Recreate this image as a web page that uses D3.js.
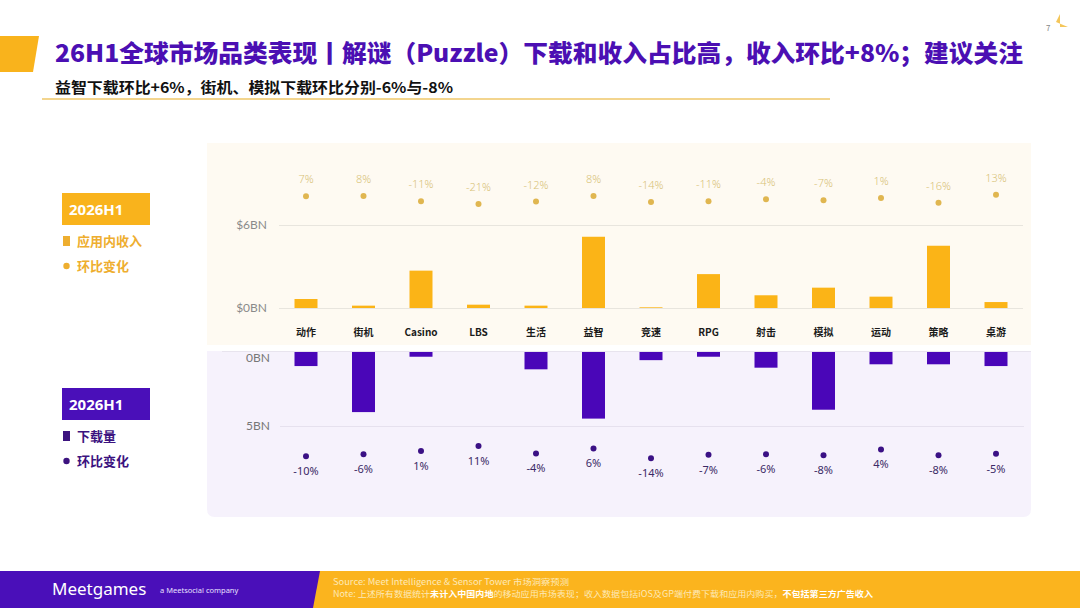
<!DOCTYPE html>
<html><head><meta charset="utf-8">
<script src="https://cdn.jsdelivr.net/npm/d3@7"></script>
<style>
html,body{margin:0;padding:0;background:#fff;}
svg{display:block;font-family:"Noto Sans CJK SC","Noto Sans",sans-serif;}
</style></head>
<body>
<svg id="c" width="1080" height="608"></svg>
<script>
// ---- data ----
const categories = ["动作","街机","Casino","LBS","生活","益智","竞速","RPG","射击","模拟","运动","策略","桌游"];
const revenue = [0.65,0.17,2.7,0.24,0.17,5.15,0.05,2.45,0.92,1.47,0.82,4.5,0.43];      // $BN, 2026H1 in-app revenue
const revenueQoQ = [7,8,-11,-21,-12,8,-14,-11,-4,-7,1,-16,13];                          // %
const downloads = [0.95,4.06,0.32,0,1.17,4.5,0.55,0.32,1.06,3.9,0.83,0.83,0.95];      // BN
const downloadsQoQ = [-10,-6,1,11,-4,6,-14,-7,-6,-8,4,-8,-5];                         // %
const revTicks = [0,6];
const dlTicks = [0,5];
const title = "26H1全球市场品类表现丨解谜（Puzzle）下载和收入占比高，收入环比+8%；建议关注";
const subtitle = "益智下载环比+6%，街机、模拟下载环比分别-6%与-8%";

const svg = d3.select("#c");
const ORANGE = "#fbb417", PURPLE = "#4a06b8";

// ---- header ----
svg.append("path").attr("d","M0,36 L39,36 L33,72 L0,72 Z").attr("fill","#f9b31c");
svg.append("text").attr("x",55).attr("y",62).attr("font-size",24).attr("font-weight",900)
  .attr("fill","#4b0fb3").attr("textLength",968).attr("lengthAdjust","spacingAndGlyphs").text(title);
svg.append("text").attr("x",55).attr("y",93).attr("font-size",15).attr("font-weight",700)
  .attr("fill","#111").attr("textLength",398).attr("lengthAdjust","spacingAndGlyphs").text(subtitle);
svg.append("rect").attr("x",42).attr("y",98).attr("width",788).attr("height",2).attr("fill","#f3d58e");
svg.append("text").attr("x",1046).attr("y",31).attr("font-size",8).attr("fill","#888").text("7");
svg.append("path").attr("d","M1056,22 L1060,14 L1060,27 L1068,27 Z").attr("fill","#f4c65a");

// ---- panels ----
svg.append("rect").attr("x",207).attr("y",143).attr("width",824).attr("height",202).attr("fill","#fefaf2");
svg.append("path").attr("d","M207,351 L1031,351 L1031,509 Q1031,517 1023,517 L215,517 Q207,517 207,509 Z").attr("fill","#f6f2fc");

// ---- scales ----
const x = d3.scaleBand().domain(categories).range([277.25,1024.75]).paddingInner(0.6).paddingOuter(0.3);
const yRev = d3.scaleLinear().domain([0,6]).range([308,225]);
const yRevQ = d3.scaleLinear().domain([-21,13]).range([204,194.7]);
const yDl = d3.scaleLinear().domain([0,5]).range([352,426]);
const yDlQ = d3.scaleLinear().domain([-14,11]).range([458.3,446]);
const gridW = 1023 - 279;

// ---- top axis ----
const axT = svg.append("g").attr("transform","translate(279,0)")
  .call(d3.axisLeft(yRev).tickValues(revTicks).tickSize(-gridW).tickPadding(12).tickFormat(d=>"$"+d+"BN"));
axT.select(".domain").remove();
axT.selectAll(".tick line").attr("stroke","#e8e5de").attr("stroke-width",1.2);
axT.selectAll(".tick text").attr("fill","#8a8a8a").attr("font-size",12).attr("font-family","Lato,'Noto Sans',sans-serif");

svg.append("g").selectAll("rect").data(categories).join("rect")
  .attr("x",d=>x(d)).attr("width",x.bandwidth())
  .attr("y",(d,i)=>yRev(revenue[i])).attr("height",(d,i)=>yRev(0)-yRev(revenue[i]))
  .attr("fill",ORANGE);

svg.append("g").selectAll("circle").data(categories).join("circle")
  .attr("cx",d=>x(d)+x.bandwidth()/2).attr("cy",(d,i)=>yRevQ(revenueQoQ[i])).attr("r",3)
  .attr("fill","#e0b650");
svg.append("g").selectAll("text").data(categories).join("text")
  .attr("x",d=>x(d)+x.bandwidth()/2).attr("y",(d,i)=>yRevQ(revenueQoQ[i])-13)
  .attr("text-anchor","middle").attr("font-size",11).attr("font-weight",300)
  .attr("font-family","'Noto Sans',sans-serif").attr("fill","#d8c278")
  .text((d,i)=>revenueQoQ[i]+"%");

svg.append("g").selectAll("text").data(categories).join("text")
  .attr("x",d=>x(d)+x.bandwidth()/2).attr("y",336)
  .attr("text-anchor","middle").attr("font-size",10).attr("font-weight",700).attr("fill","#1a1a1a")
  .text(d=>d);

// ---- bottom axis ----
svg.append("line").attr("x1",222).attr("x2",1031).attr("y1",351.5).attr("y2",351.5).attr("stroke","#e8e4ee");
const axB = svg.append("g").attr("transform","translate(280,0)")
  .call(d3.axisLeft(yDl).tickValues(dlTicks).tickSize(-gridW).tickPadding(10).tickFormat(d=>d+"BN"));
axB.select(".domain").remove();
axB.selectAll(".tick line").attr("stroke","#e6e1ee").attr("stroke-width",1.2).filter(d=>d===0).remove();
axB.selectAll(".tick text").attr("fill","#777").attr("font-size",12).attr("font-family","Lato,'Noto Sans',sans-serif")
  .attr("dy",d=>d===0?"0.75em":"0.32em");

svg.append("g").selectAll("rect").data(categories).join("rect")
  .attr("x",d=>x(d)).attr("width",x.bandwidth())
  .attr("y",yDl(0)).attr("height",(d,i)=>yDl(downloads[i])-yDl(0))
  .attr("fill",PURPLE);

svg.append("g").selectAll("circle").data(categories).join("circle")
  .attr("cx",d=>x(d)+x.bandwidth()/2).attr("cy",(d,i)=>yDlQ(downloadsQoQ[i])).attr("r",3)
  .attr("fill","#3b1185");
svg.append("g").selectAll("text").data(categories).join("text")
  .attr("x",d=>x(d)+x.bandwidth()/2).attr("y",(d,i)=>yDlQ(downloadsQoQ[i])+19)
  .attr("text-anchor","middle").attr("font-size",11)
  .attr("font-family","'Noto Sans',sans-serif").attr("fill","#3b2a66")
  .text((d,i)=>downloadsQoQ[i]+"%");

// ---- legends ----
function legend(y0, color, itemColor, dotColor, label){
  svg.append("rect").attr("x",62).attr("y",y0).attr("width",88).attr("height",32).attr("fill",color);
  svg.append("text").attr("x",69).attr("y",y0+21.5).attr("font-size",15).attr("font-weight",700)
    .attr("fill","#fff").attr("font-family","'Noto Sans',sans-serif").text("2026H1");
  svg.append("rect").attr("x",63).attr("y",y0+43).attr("width",7).attr("height",10).attr("fill",itemColor);
  svg.append("text").attr("x",77).attr("y",y0+53).attr("font-size",13).attr("font-weight",700).attr("fill",itemColor).text(label);
  svg.append("circle").attr("cx",66.5).attr("cy",y0+73).attr("r",3.2).attr("fill",dotColor);
  svg.append("text").attr("x",77).attr("y",y0+78).attr("font-size",13).attr("font-weight",700).attr("fill",itemColor).text("环比变化");
}
legend(193, "#f9b31c", "#eeae2f", "#eeae2f", "应用内收入");
legend(388, "#4a0fb9", "#3c137f", "#3c137f", "下载量");

// ---- footer ----
svg.append("rect").attr("x",0).attr("y",571).attr("width",1080).attr("height",37).attr("fill","#fbb41e");
svg.append("path").attr("d","M0,571 L320,571 L313,608 L0,608 Z").attr("fill","#4a0fb9");
svg.append("text").attr("x",52).attr("y",595).attr("font-size",17).attr("fill","#fff").attr("font-family","'Noto Sans',sans-serif").text("Meetgames");
svg.append("text").attr("x",160).attr("y",593).attr("font-size",7.5).attr("fill","#e8e0ff").attr("font-family","'Noto Sans',sans-serif").text("a Meetsocial company");
svg.append("text").attr("x",333).attr("y",585).attr("font-size",8.5).attr("fill","#fde9b8")
  .attr("textLength",236).attr("lengthAdjust","spacingAndGlyphs").text("Source: Meet Intelligence & Sensor Tower 市场洞察预测");
const note = svg.append("text").attr("x",333).attr("y",597).attr("font-size",8.5).attr("fill","#fde9b8")
  .attr("textLength",540).attr("lengthAdjust","spacingAndGlyphs");
note.append("tspan").text("Note: 上述所有数据统计");
note.append("tspan").attr("font-weight",700).attr("fill","#fff").text("未计入中国内地");
note.append("tspan").text("的移动应用市场表现；收入数据包括iOS及GP端付费下载和应用内购买，");
note.append("tspan").attr("font-weight",700).attr("fill","#fff").text("不包括第三方广告收入");
</script>
</body></html>
